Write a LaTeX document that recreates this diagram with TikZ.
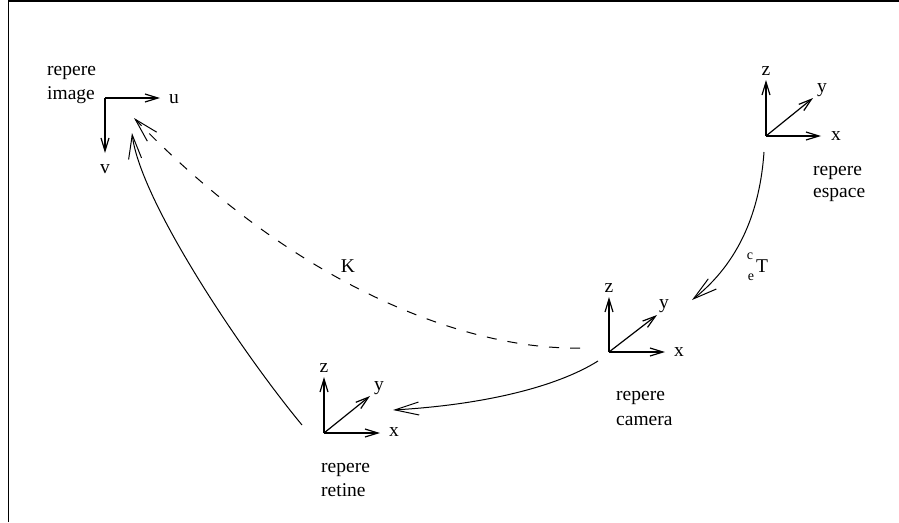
\documentclass[tikz,border=0pt]{standalone}
\usepackage{fontspec}
\setmainfont{Liberation Serif}
\usetikzlibrary{arrows.meta}
\tikzset{
  lbl/.style={inner sep=0pt, anchor=base, font=\fontsize{19.5}{23}\selectfont},
  small/.style={inner sep=0pt, font=\fontsize{14}{16}\selectfont},
  axis/.style={line width=1.2pt, -{Straight Barb[length=13pt,width=8pt,line width=1.2pt]}},
  conn/.style={line width=1pt, -{Straight Barb[length=24pt,width=13pt,line width=1pt]}},
}
\begin{document}
\begin{tikzpicture}[x=1pt,y=-1pt]
\useasboundingbox (0,0) rectangle (899,522);
% frame (partially visible)
\draw[line width=1.5pt] (8.5,522) -- (8.5,1) -- (899,1);

% repere image
\coordinate (oi) at (105,98);
\coordinate (ui) at (160,98);
\coordinate (vi) at (105,153);
\draw[axis] (oi) -- (ui);
\draw[axis] (oi) -- (vi);
\node[lbl, anchor=base west] (iu) at (169,103) {u};
\node[lbl] (iv) at (105,173) {v};
\node[lbl, anchor=base west] (ir) at (47,75) {repere};
\node[lbl, anchor=base west] (ii) at (47,99) {image};

% repere espace
\coordinate (oe) at (766,136);
\coordinate (ze) at (766,80);
\coordinate (ye) at (813,98);
\coordinate (xe) at (821,136);
\draw[axis] (oe) -- (ze);
\draw[axis] (oe) -- (ye);
\draw[axis] (oe) -- (xe);
\node[lbl] (ez) at (766,75) {z};
\node[lbl] (ey) at (822,92) {y};
\node[lbl] (ex) at (836,140) {x};
\node[lbl, anchor=base west] (er) at (813,175) {repere};
\node[lbl, anchor=base west] (es) at (813,197) {espace};

% repere camera
\coordinate (oc) at (609,352);
\coordinate (zc) at (609,297);
\coordinate (yc) at (657,315);
\coordinate (xc) at (665,352);
\draw[axis] (oc) -- (zc);
\draw[axis] (oc) -- (yc);
\draw[axis] (oc) -- (xc);
\node[lbl] (cz) at (609,292) {z};
\node[lbl] (cy) at (664,308) {y};
\node[lbl] (cx) at (679,356) {x};
\node[lbl, anchor=base west] (cr) at (616,400) {repere};
\node[lbl, anchor=base west] (cc) at (616,425) {camera};

% repere retine
\coordinate (or) at (324,433);
\coordinate (zr) at (324,377);
\coordinate (yr) at (370,396);
\coordinate (xr) at (380,433);
\draw[axis] (or) -- (zr);
\draw[axis] (or) -- (yr);
\draw[axis] (or) -- (xr);
\node[lbl] (rz) at (324,372) {z};
\node[lbl] (ry) at (379,390) {y};
\node[lbl] (rx) at (394,436) {x};
\node[lbl, anchor=base west] (rr) at (321,472) {repere};
\node[lbl, anchor=base west] (rt) at (321,496) {retine};

% connectors
\coordinate (s1) at (764,152);
\coordinate (e1) at (692,300);
\draw[conn] (s1) .. controls (760,210) and (740,262) .. (e1);
\node[lbl, anchor=base west] (T) at (756,272) {T};
\node[small] (Tc) at (750,256) {c};
\node[small] (Te) at (751,277) {e};

\coordinate (s2) at (598,361);
\coordinate (e2) at (393,410);
\draw[conn] (s2) .. controls (555,388) and (480,405) .. (e2);

\coordinate (s3) at (302,425);
\coordinate (e3) at (132,133);
\draw[conn] (s3) .. controls (240,350) and (140,200) .. (e3);

\coordinate (s4) at (580,348);
\coordinate (e4) at (134,118);
\draw[conn, dash pattern=on 10pt off 11pt] (s4) .. controls (470,350) and (300,290) .. (e4);
\node[lbl] (K) at (348,272) {K};
\end{tikzpicture}
\end{document}
